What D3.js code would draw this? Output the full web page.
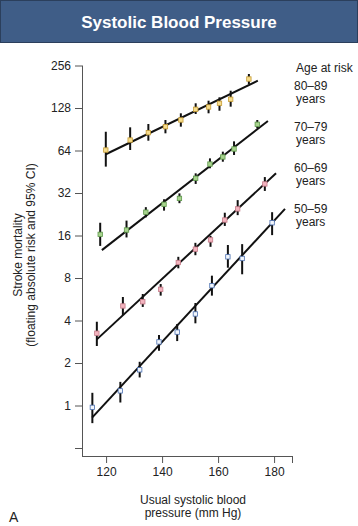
<!DOCTYPE html>
<html>
<head>
<meta charset="utf-8">
<script src="https://cdn.jsdelivr.net/npm/d3@7"></script>
<style>
  body { margin: 0; background: #fff; }
  text { font-family: "Liberation Sans", Arial, sans-serif; fill: #222; }
</style>
</head>
<body>
<div id="chart"></div>
<script>
// tick values
var bpTicks = [120, 140, 160, 180];
var riskTicks = [0.5, 1, 2, 4, 8, 16, 32, 64, 128, 256];
var ageGroups = ["80–89", "70–79", "60–69", "50–59"];

// 80-89 years
var bp80 = [119.9, 128.6, 135.1, 141.2, 146.7, 152.0, 156.6, 160.5, 164.5, 171.0];
var risk80 = [64.5, 75.9, 85.6, 94.4, 105.3, 125.3, 130.1, 138.2, 147.6, 205.4];
var lo80 = [49.2, 64.5, 75.1, 84.7, 94.4, 116.1, 117.4, 122.4, 130.8, 189.3];
var hi80 = [86.9, 93.4, 98.6, 105.3, 117.4, 138.2, 144.2, 152.4, 169.7, 222.9];
var fitBp80 = [119.9, 174.2], fitRisk80 = [60.2, 199.8];

// 70-79 years
var bp70 = [117.9, 127.3, 134.2, 140.7, 146.2, 152.0, 157.1, 161.7, 165.7, 174.0];
var risk70 = [16.3, 17.5, 23.4, 26.6, 29.3, 40.7, 51.3, 57.6, 65.6, 98.1];
var lo70 = [13.5, 15.5, 21.5, 24.0, 27.1, 37.1, 47.9, 53.3, 59.5, 91.9];
var hi70 = [19.7, 20.4, 25.4, 28.9, 31.8, 44.1, 56.3, 62.8, 74.3, 105.3];
var fitBp70 = [118.5, 177.8], fitRisk70 = [12.6, 103.5];

// 60-69 years
var bp60 = [116.7, 126.0, 133.1, 139.5, 145.8, 151.9, 157.3, 162.4, 167.0, 176.7];
var risk60 = [3.25, 5.07, 5.43, 6.65, 10.3, 12.8, 14.9, 20.6, 24.7, 37.1];
var lo60 = [2.64, 4.37, 4.99, 6.0, 9.37, 11.6, 13.3, 18.7, 22.3, 33.1];
var hi60 = [3.92, 5.87, 6.16, 7.25, 11.3, 14.2, 15.9, 23.2, 28.5, 41.5];
var fitBp60 = [116.7, 180.7], fitRisk60 = [2.94, 44.1];

// 50-59 years
var bp50 = [115.1, 125.1, 132.0, 138.9, 145.4, 151.9, 157.8, 163.5, 168.6, 179.3];
var risk50 = [0.97, 1.27, 1.79, 2.82, 3.31, 4.45, 7.06, 11.3, 11.0, 19.7];
var lo50 = [0.75, 1.05, 1.58, 2.44, 2.86, 3.82, 6.0, 9.46, 8.5, 16.1];
var hi50 = [1.23, 1.47, 2.04, 3.16, 3.78, 5.32, 8.31, 13.7, 13.9, 23.4];
var fitBp50 = [115.0, 183.9], fitRisk50 = [0.82, 24.7];

var svgWidth = 358;
var svgHeight = 526;

var svg = d3.select("#chart")
  .append("svg")
  .attr("width", svgWidth)
  .attr("height", svgHeight);

// title banner
svg.append("rect")
  .attr("x", 0.5).attr("y", 0.5)
  .attr("width", svgWidth - 1).attr("height", 42)
  .attr("fill", "#3f5d87")
  .attr("stroke", "#2b3f5c");

svg.append("text")
  .attr("x", svgWidth / 2)
  .attr("y", 28)
  .attr("text-anchor", "middle")
  .style("fill", "#fff")
  .style("font-weight", "bold")
  .style("font-size", "17px")
  .text("Systolic Blood Pressure");

var x = d3.scaleLinear().domain([111.4, 186.4]).range([82, 292]);
var y = d3.scaleLog().base(2).domain([0.5, 256]).range([448, 65.5]);

var xAxis = svg.append("g")
  .attr("transform", "translate(0,456)")
  .call(d3.axisBottom(x).tickValues(bpTicks.concat([186.4])).tickSize(7).tickPadding(4)
    .tickFormat(d => bpTicks.indexOf(d) >= 0 ? d : ""));
xAxis.select(".domain").attr("d", "M82,0.5H292.5");

var yAxis = svg.append("g")
  .attr("transform", "translate(82,0)")
  .call(d3.axisLeft(y).tickValues(riskTicks).tickSize(7).tickPadding(4)
    .tickFormat(d => d >= 1 ? d : ""));
yAxis.select(".domain").attr("d", "M0.5,65.5V456");

svg.selectAll(".tick text").style("font-size", "12px").style("fill", "#222");
svg.selectAll(".domain, .tick line").attr("stroke", "#555");

var groups = [
  { bp: bp80, risk: risk80, lo: lo80, hi: hi80, fb: fitBp80, fr: fitRisk80, fill: "#f6dc8c", edge: "#c59b35" },
  { bp: bp70, risk: risk70, lo: lo70, hi: hi70, fb: fitBp70, fr: fitRisk70, fill: "#a8d38e", edge: "#5d984a" },
  { bp: bp60, risk: risk60, lo: lo60, hi: hi60, fb: fitBp60, fr: fitRisk60, fill: "#f3b4bf", edge: "#c27886" },
  { bp: bp50, risk: risk50, lo: lo50, hi: hi50, fb: fitBp50, fr: fitRisk50, fill: "#f2f6fc", edge: "#4a6fb0" }
];

groups.forEach(function(g) {
  var plot = svg.append("g");
  plot.append("line")
    .attr("x1", x(g.fb[0])).attr("y1", y(g.fr[0]))
    .attr("x2", x(g.fb[1])).attr("y2", y(g.fr[1]))
    .attr("stroke", "#111").attr("stroke-width", 2);

  var pts = g.bp.map((b, i) => ({ bp: b, risk: g.risk[i], lo: g.lo[i], hi: g.hi[i] }));

  plot.selectAll("line.ci").data(pts).enter()
    .append("line")
    .attr("class", "ci")
    .attr("x1", d => x(d.bp)).attr("x2", d => x(d.bp))
    .attr("y1", d => y(d.lo)).attr("y2", d => y(d.hi))
    .attr("stroke", "#111").attr("stroke-width", 2);

  plot.selectAll("rect").data(pts).enter()
    .append("rect")
    .attr("x", d => x(d.bp) - 2.2)
    .attr("y", d => y(d.risk) - 2.2)
    .attr("width", 4.4).attr("height", 4.4)
    .attr("fill", g.fill)
    .attr("stroke", g.edge)
    .attr("stroke-width", 0.8);
});

// legend
svg.append("text").attr("x", 296).attr("y", 72).style("font-size", "12px").text("Age at risk");
var legendY = [90, 131, 172, 213];
ageGroups.forEach(function(a, i) {
  svg.append("text").attr("x", 294).attr("y", legendY[i]).style("font-size", "12px").text(a);
  svg.append("text").attr("x", 296).attr("y", legendY[i] + 13).style("font-size", "12px").text("years");
});

// axis titles
var yLabel = svg.append("text")
  .attr("transform", "translate(22,255) rotate(-90)")
  .attr("text-anchor", "middle")
  .style("font-size", "12px");
yLabel.append("tspan").attr("x", 0).attr("dy", 0).text("Stroke mortality");
yLabel.append("tspan").attr("x", 0).attr("dy", 13).text("(floating absolute risk and 95% CI)");

svg.append("text").attr("x", 193).attr("y", 504).attr("text-anchor", "middle")
  .style("font-size", "12px").text("Usual systolic blood");
svg.append("text").attr("x", 193).attr("y", 517).attr("text-anchor", "middle")
  .style("font-size", "12px").text("pressure (mm Hg)");

svg.append("text").attr("x", 9).attr("y", 522).style("font-size", "14px").text("A");
</script>
</body>
</html>
